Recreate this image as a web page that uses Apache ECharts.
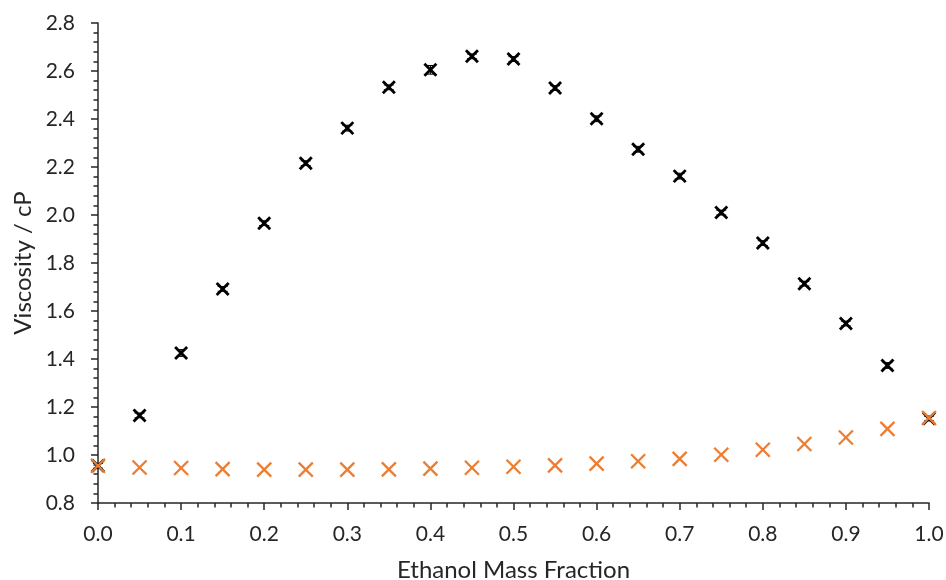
<!DOCTYPE html>
<html>
<head>
<meta charset="utf-8">
<title>Viscosity vs Ethanol Mass Fraction</title>
<script src="https://cdn.jsdelivr.net/npm/echarts@6/dist/echarts.min.js"></script>
<style>
  html, body { margin: 0; padding: 0; background: #fff; }
  #chart { width: 946px; height: 580px; }
</style>
</head>
<body>
<div id="chart"></div>
<script>
// Ethanol mass fraction of each sample
const massFraction = [0.00, 0.05, 0.10, 0.15, 0.20, 0.25, 0.30, 0.35, 0.40, 0.45, 0.50,
                      0.55, 0.60, 0.65, 0.70, 0.75, 0.80, 0.85, 0.90, 0.95, 1.00];

// Measured viscosity (cP) with its uncertainty
const measuredViscosity = [0.955, 1.165, 1.425, 1.692, 1.966, 2.216, 2.362, 2.532, 2.605, 2.661, 2.650,
                           2.529, 2.401, 2.274, 2.162, 2.010, 1.883, 1.714, 1.548, 1.373, 1.152];
const measuredError = [0.010, 0.010, 0.014, 0.010, 0.010, 0.010, 0.012, 0.010, 0.018, 0.010, 0.010,
                       0.010, 0.012, 0.012, 0.012, 0.010, 0.010, 0.010, 0.010, 0.012, 0.010];

// Ideal-mixing viscosity (cP)
const idealViscosity = [0.955, 0.948, 0.946, 0.941, 0.939, 0.939, 0.939, 0.940, 0.943, 0.947, 0.951,
                        0.957, 0.964, 0.974, 0.984, 1.001, 1.022, 1.046, 1.073, 1.109, 1.154];

const xTickLabels = ['0.0', '0.1', '0.2', '0.3', '0.4', '0.5', '0.6', '0.7', '0.8', '0.9', '1.0'];
const yTickLabels = ['0.8', '1.0', '1.2', '1.4', '1.6', '1.8', '2.0', '2.2', '2.4', '2.6', '2.8'];

const FONT = 'Lato, "Open Sans", sans-serif';
const AXIS_COLOR = '#262626';
const TEXT_COLOR = '#262626';

function pairs(ys) { return massFraction.map((x, i) => [x, ys[i]]); }

// Draws an "x" cross marker centred on the data point
function crossRenderer(half, color, width) {
  return function (params, api) {
    const p = api.coord([api.value(0), api.value(1)]);
    const style = { stroke: color, lineWidth: width, lineCap: 'butt' };
    return {
      type: 'group',
      children: [
        { type: 'line', shape: { x1: p[0] - half, y1: p[1] - half, x2: p[0] + half, y2: p[1] + half }, style },
        { type: 'line', shape: { x1: p[0] - half, y1: p[1] + half, x2: p[0] + half, y2: p[1] - half }, style }
      ]
    };
  };
}

// Vertical error bar with end caps
function errorBarRenderer(params, api) {
  const x = api.value(0), y = api.value(1), e = api.value(2);
  const top = api.coord([x, y + e]);
  const bot = api.coord([x, y - e]);
  const cap = 5;
  const style = { stroke: '#000', lineWidth: 1 };
  return {
    type: 'group',
    children: [
      { type: 'line', shape: { x1: top[0], y1: top[1], x2: bot[0], y2: bot[1] }, style },
      { type: 'line', shape: { x1: top[0] - cap, y1: top[1], x2: top[0] + cap, y2: top[1] }, style },
      { type: 'line', shape: { x1: bot[0] - cap, y1: bot[1], x2: bot[0] + cap, y2: bot[1] }, style }
    ]
  };
}

const chart = echarts.init(document.getElementById('chart'), null, { renderer: 'canvas' });

const axisCommon = {
  type: 'value',
  axisLine: { show: true, onZero: false, lineStyle: { color: AXIS_COLOR, width: 1.5 } },
  axisTick: { show: true, inside: false, length: 7, lineStyle: { color: AXIS_COLOR, width: 1.5 } },
  minorTick: { show: true, splitNumber: 5, length: 4.5, lineStyle: { color: AXIS_COLOR, width: 1.5 } },
  splitLine: { show: false },
  minorSplitLine: { show: false },
  nameLocation: 'middle',
  nameTextStyle: { fontFamily: FONT, fontSize: 24, color: TEXT_COLOR }
};

chart.setOption({
  animation: false,
  backgroundColor: '#fff',
  grid: { left: 98, right: 17, top: 23, bottom: 77, containLabel: false, outerBoundsMode: 'none' },
  xAxis: Object.assign({}, axisCommon, {
    min: 0, max: 1, interval: 0.1,
    name: 'Ethanol Mass Fraction',
    nameGap: 55,
    axisLabel: {
      margin: 21, fontFamily: FONT, fontSize: 21, color: TEXT_COLOR,
      formatter: v => xTickLabels[Math.round(v * 10)]
    }
  }),
  yAxis: Object.assign({}, axisCommon, {
    min: 0.8, max: 2.8, interval: 0.2,
    name: 'Viscosity / cP',
    nameGap: 63,
    axisLabel: {
      margin: 23, fontFamily: FONT, fontSize: 21, color: TEXT_COLOR,
      formatter: v => yTickLabels[Math.round((v - 0.8) * 5)]
    }
  }),
  series: [
    {
      name: 'Measured error',
      type: 'custom',
      renderItem: errorBarRenderer,
      data: massFraction.map((x, i) => [x, measuredViscosity[i], measuredError[i]]),
      z: 2
    },
    {
      name: 'Measured',
      type: 'custom',
      renderItem: crossRenderer(6, '#000', 2.8),
      data: pairs(measuredViscosity),
      z: 3
    },
    {
      name: 'Ideal',
      type: 'custom',
      renderItem: crossRenderer(7, '#ED7D31', 2.3),
      data: pairs(idealViscosity),
      z: 4
    }
  ]
});
</script>
</body>
</html>
